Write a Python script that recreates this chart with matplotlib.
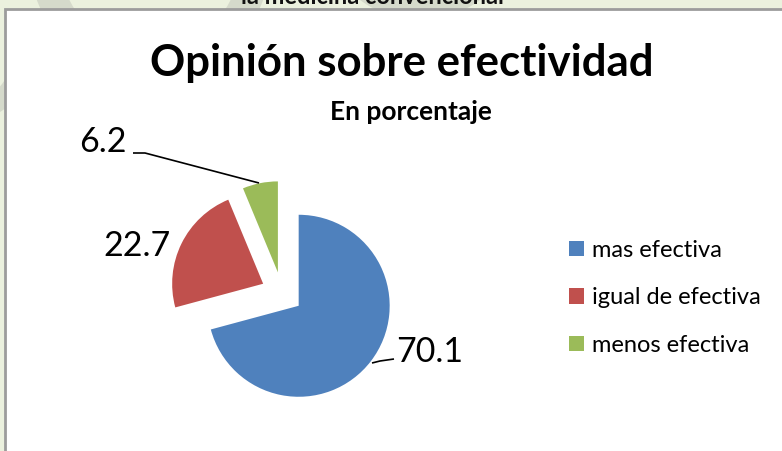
import matplotlib
matplotlib.use("Agg")
import matplotlib.pyplot as plt
from matplotlib.patches import Rectangle, Wedge

# ---- data ----
categories = ["mas efectiva", "igual de efectiva", "menos efectiva"]
values = [70.1, 22.7, 6.2]
label_texts = ["70.1", "22.7", "6.2"]
colors = ["#4F81BD", "#C0504D", "#9BBB59"]
title = "Opinión sobre efectividad"
subtitle = "En porcentaje"
top_text = "la medicina convencional"

W, H = 782, 451
FONT = ["Lato", "DejaVu Sans"]
plt.rcParams["font.family"] = FONT

fig = plt.figure(figsize=(W / 100, H / 100), dpi=100, facecolor="#EBF1DE")
ax = fig.add_axes([0, 0, 1, 1])
ax.set_facecolor("none")

def Y(y):
    return H - y

# faint watermark arcs in the background
for (cx, cy, r, w) in [(150, -40, 120, 30), (420, -80, 100, 28), (-30, 60, 60, 20)]:
    ax.add_patch(Wedge((cx, Y(cy)), r, 180, 360, width=w, facecolor="#D5DACB",
                       edgecolor="none", zorder=0))

# cut-off heading text at top
ax.text(372, Y(-3), top_text, ha="center", va="center", fontsize=17,
        fontweight="bold", color="#111111", zorder=1)

# chart area
ax.add_patch(Rectangle((5, Y(460)), 800, 451, facecolor="white",
                       edgecolor="#9C9C9C", linewidth=2, zorder=2))

# pie
wedges, _ = ax.pie(values, colors=colors, startangle=90, counterclock=False,
                   explode=[21, 21, 21], radius=91, center=(282, Y(293)),
                   wedgeprops=dict(linewidth=0, zorder=3), frame=True)
for wdg in wedges:
    wdg.set_zorder(3)

ax.set_xlim(0, W)
ax.set_ylim(0, H)
ax.set_aspect("equal")
ax.axis("off")

# titles
ax.text(402, Y(63), title, ha="center", va="center", fontsize=31.5,
        fontweight="bold", color="black", zorder=4)
ax.text(411, Y(112), subtitle, ha="center", va="center", fontsize=19,
        fontweight="bold", color="black", zorder=4)

# data labels
lab_pos = [(430, 352), (137, 246), (103, 142)]
for (x, y), t in zip(lab_pos, label_texts):
    ax.text(x, Y(y), t, ha="center", va="center", fontsize=24.5, color="black", zorder=4)

# leader lines
ax.plot([372, 380, 394], [Y(363), Y(361), Y(359)], color="black", lw=1.2, zorder=4,
        solid_capstyle="butt")
ax.plot([133, 145, 259], [Y(153), Y(153), Y(183)], color="black", lw=1.2, zorder=4,
        solid_capstyle="butt")

# legend
leg = ax.legend(wedges, categories, loc="upper left",
                bbox_to_anchor=(557 / W, 1 - 228 / H), frameon=False,
                fontsize=17, handlelength=0.65, handleheight=0.65,
                handletextpad=0.35, labelspacing=1.12, borderpad=0)
leg.set_zorder(5)

fig.savefig("out.png", dpi=100, facecolor=fig.get_facecolor())
